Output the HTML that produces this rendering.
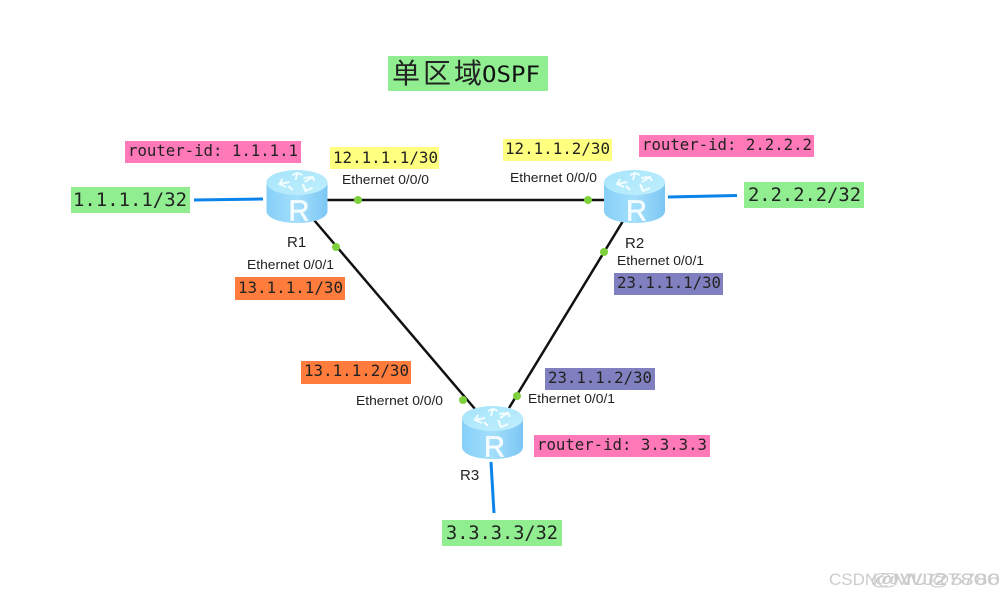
<!DOCTYPE html>
<html><head><meta charset="utf-8">
<style>
html,body{margin:0;padding:0;background:#fff;width:1005px;height:597px;overflow:hidden}
svg{display:block;filter:blur(.3px)}
.m{font-family:"DejaVu Sans Mono","Liberation Mono",monospace;fill:#222}
.s{font-family:"Liberation Sans",sans-serif;font-size:13.300px;fill:#222}
.r{font-family:"Liberation Sans",sans-serif;font-size:15px;fill:#222}
</style></head>
<body>
<svg width="1005" height="597" viewBox="0 0 1005 597" xmlns="http://www.w3.org/2000/svg">
<defs>
<linearGradient id="side" x1="0" x2="1" y1="0" y2="0">
<stop offset="0" stop-color="#86cff8"/><stop offset=".5" stop-color="#a4dffb"/><stop offset="1" stop-color="#7cc6f4"/>
</linearGradient>
<linearGradient id="top" x1="0" x2="1" y1="0" y2="1">
<stop offset="0" stop-color="#a6e4fb"/><stop offset="1" stop-color="#c0effd"/>
</linearGradient>
<g id="router">
<path d="M0 12.500 V41 C0 48 13 53 30.500 53 C48 53 61 48 61 41 V12.500 Z" fill="url(#side)"/>
<ellipse cx="30.500" cy="12.500" rx="30.500" ry="12.500" fill="url(#top)"/>
<g fill="none" stroke="#f2fdff" stroke-width="2">
<path d="M26 5 l5 -2 l5 2 M31 3 l-2 7"/>
<path d="M37 8 l9 -1 l2 4 M46 7 l-8 5"/>
<path d="M16 9 l-3 5 l7 3 M13 14 l10 -2"/>
<path d="M36 14 l3 7 l7 -3 M39 21 l-2 -6"/>
<path d="M22 16 l4 4"/>
</g>
<text x="32.500" y="50.500" text-anchor="middle" font-family="Liberation Sans,sans-serif" font-size="29" fill="#f4fcff" stroke="#f4fcff" stroke-width=".7">R</text>
</g>
</defs>

<rect x="388" y="56" width="160" height="35" fill="#90ee90"/>
<text x="392" y="83" font-family="'Liberation Sans','Noto Sans CJK SC',sans-serif" font-size="28" letter-spacing="3" fill="#222">单区域</text>
<text x="482" y="82" class="m" font-size="22" style="fill:#111" textLength="58" lengthAdjust="spacingAndGlyphs">OSPF</text>

<line x1="327" y1="200" x2="604" y2="200" stroke="#111" stroke-width="2.500"/>
<line x1="314" y1="220" x2="475" y2="409" stroke="#111" stroke-width="2.500"/>
<line x1="623" y1="221" x2="509" y2="408" stroke="#111" stroke-width="2.500"/>
<line x1="194" y1="200" x2="263" y2="199" stroke="#0a84ea" stroke-width="3"/>
<line x1="668" y1="197" x2="737" y2="195.500" stroke="#0a84ea" stroke-width="3"/>
<line x1="491" y1="462" x2="494" y2="513" stroke="#0a84ea" stroke-width="3"/>

<use href="#router" x="266.500" y="170"/>
<use href="#router" x="604" y="170"/>
<use href="#router" x="462" y="406"/>

<g fill="#7ed03c">
<circle cx="358" cy="200" r="4"/><circle cx="588" cy="200" r="4"/>
<circle cx="336" cy="247" r="4"/><circle cx="604" cy="252" r="4"/>
<circle cx="463" cy="400" r="4"/><circle cx="517" cy="396" r="4"/>
</g>

<rect x="125" y="141" width="176" height="22" fill="#ff78b8"/>
<text x="128" y="156" class="m" font-size="15.700" textLength="170" lengthAdjust="spacingAndGlyphs">router-id: 1.1.1.1</text>
<rect x="639" y="135" width="175" height="22" fill="#ff78b8"/>
<text x="642" y="150" class="m" font-size="15.700" textLength="170" lengthAdjust="spacingAndGlyphs">router-id: 2.2.2.2</text>
<rect x="534" y="435" width="176" height="22" fill="#ff78b8"/>
<text x="537" y="450" class="m" font-size="15.700" textLength="170" lengthAdjust="spacingAndGlyphs">router-id: 3.3.3.3</text>

<rect x="71" y="187" width="119" height="26" fill="#90ee90"/>
<text x="73" y="206" class="m" font-size="19" textLength="114" lengthAdjust="spacingAndGlyphs">1.1.1.1/32</text>
<rect x="744" y="182" width="120" height="26" fill="#90ee90"/>
<text x="748" y="201" class="m" font-size="19" textLength="113" lengthAdjust="spacingAndGlyphs">2.2.2.2/32</text>
<rect x="442" y="520" width="120" height="26" fill="#90ee90"/>
<text x="446" y="539" class="m" font-size="19" textLength="112" lengthAdjust="spacingAndGlyphs">3.3.3.3/32</text>

<rect x="330" y="147" width="109" height="22" fill="#ffff80"/>
<text x="333" y="163" class="m" font-size="15.700" textLength="105" lengthAdjust="spacingAndGlyphs">12.1.1.1/30</text>
<rect x="503" y="139" width="109" height="22" fill="#ffff80"/>
<text x="505" y="154" class="m" font-size="15.700" textLength="105" lengthAdjust="spacingAndGlyphs">12.1.1.2/30</text>

<rect x="235" y="277" width="110" height="23" fill="#ff7c3c"/>
<text x="238" y="293" class="m" font-size="15.700" textLength="105" lengthAdjust="spacingAndGlyphs">13.1.1.1/30</text>
<rect x="301" y="361" width="110" height="23" fill="#ff7c3c"/>
<text x="304" y="376" class="m" font-size="15.700" textLength="105" lengthAdjust="spacingAndGlyphs">13.1.1.2/30</text>

<rect x="614" y="273" width="109" height="22" fill="#8080c0"/>
<text x="617" y="288" class="m" font-size="15.700" textLength="104" lengthAdjust="spacingAndGlyphs">23.1.1.1/30</text>
<rect x="545" y="368" width="110" height="22" fill="#8080c0"/>
<text x="548" y="383" class="m" font-size="15.700" textLength="104" lengthAdjust="spacingAndGlyphs">23.1.1.2/30</text>

<text x="342" y="184" class="s" textLength="87" lengthAdjust="spacingAndGlyphs">Ethernet 0/0/0</text>
<text x="510" y="182" class="s" textLength="87" lengthAdjust="spacingAndGlyphs">Ethernet 0/0/0</text>
<text x="247" y="269" class="s" textLength="87" lengthAdjust="spacingAndGlyphs">Ethernet 0/0/1</text>
<text x="617" y="265" class="s" textLength="87" lengthAdjust="spacingAndGlyphs">Ethernet 0/0/1</text>
<text x="356" y="405" class="s" textLength="87" lengthAdjust="spacingAndGlyphs">Ethernet 0/0/0</text>
<text x="528" y="403" class="s" textLength="87" lengthAdjust="spacingAndGlyphs">Ethernet 0/0/1</text>

<text x="287" y="247" class="r">R1</text>
<text x="625" y="248" class="r">R2</text>
<text x="460" y="480" class="r">R3</text>

<g font-family="'Liberation Sans',sans-serif" font-size="17" fill="#c4c4c4" opacity=".85">
<text x="829" y="585">CSDN</text>
<text x="870" y="585" textLength="130" lengthAdjust="spacingAndGlyphs">@MU@5786</text>
<text x="876" y="585" textLength="124" lengthAdjust="spacingAndGlyphs">@WJ27800</text>
</g>
</svg>
</body></html>
